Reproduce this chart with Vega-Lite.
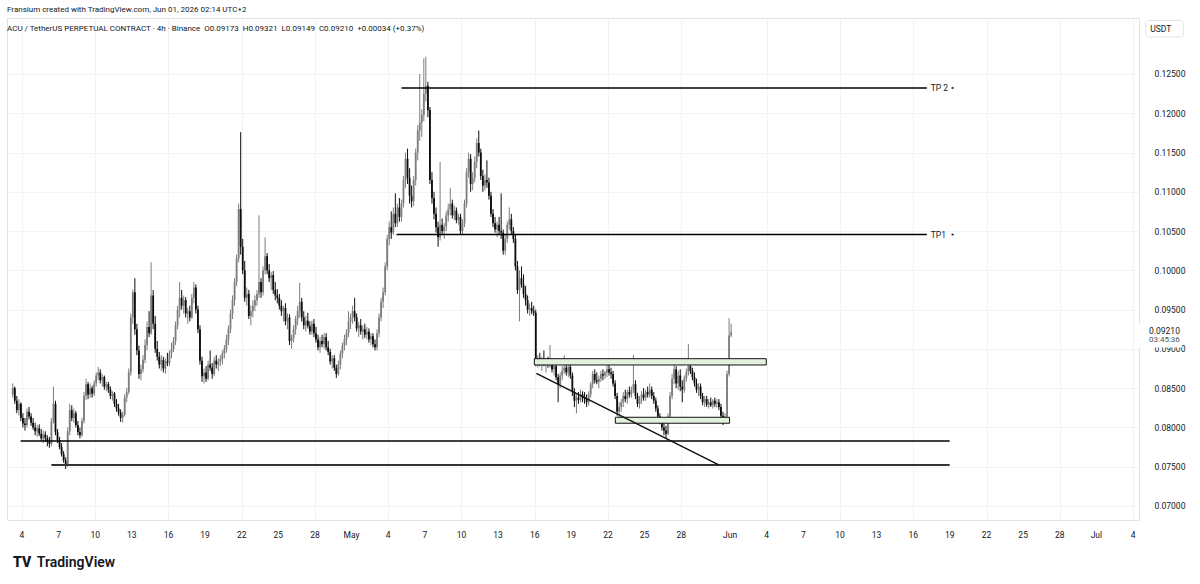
{
"$schema": "https://vega.github.io/schema/vega-lite/v6.json",
"width": 1132, "height": 502,
"autosize": {"type": "none"},
"padding": {"left": 7, "top": 18, "right": 61, "bottom": 64},
"background": "#ffffff",
"config": {"view": {"stroke": "#dfe2e8", "strokeWidth": 1}, "font": "Roboto", "axis": {"labelFont": "Roboto"}},
"title": {"text": "Fransium created with TradingView.com, Jun 01, 2026 02:14 UTC+2", "subtitle": "\u00a0\u00a0ACU / TetherUS PERPETUAL CONTRACT · 4h · Binance\u00a0\u00a0O0.09173\u00a0\u00a0H0.09321\u00a0\u00a0L0.09149\u00a0\u00a0C0.09210\u00a0\u00a0+0.00034 (+0.37%)", "anchor": "start", "frame": "group", "offset": -15, "fontSize": 8, "fontWeight": "normal", "font": "Roboto", "color": "#131722", "subtitleFontSize": 8, "subtitleFont": "Roboto", "subtitleColor": "#131722", "subtitlePadding": 11},
"datasets": {
"candles": [
{"t":"2026-04-03T06:00","o":0.0842,"h":0.0856,"l":0.0838,"c":0.0850},
{"t":"2026-04-03T10:00","o":0.0850,"h":0.0852,"l":0.0830,"c":0.0834},
{"t":"2026-04-03T14:00","o":0.0834,"h":0.0840,"l":0.0818,"c":0.0822},
{"t":"2026-04-03T18:00","o":0.0822,"h":0.0836,"l":0.0815,"c":0.0830},
{"t":"2026-04-03T22:00","o":0.0830,"h":0.0832,"l":0.0808,"c":0.0812},
{"t":"2026-04-04T02:00","o":0.0812,"h":0.0818,"l":0.0800,"c":0.0805},
{"t":"2026-04-04T06:00","o":0.0805,"h":0.0812,"l":0.0796,"c":0.0803},
{"t":"2026-04-04T10:00","o":0.0803,"h":0.0824,"l":0.0800,"c":0.0820},
{"t":"2026-04-04T14:00","o":0.0820,"h":0.0826,"l":0.0810,"c":0.0814},
{"t":"2026-04-04T18:00","o":0.0814,"h":0.0818,"l":0.0802,"c":0.0806},
{"t":"2026-04-04T22:00","o":0.0806,"h":0.0812,"l":0.0797,"c":0.0800},
{"t":"2026-04-05T02:00","o":0.0800,"h":0.0806,"l":0.0790,"c":0.0795},
{"t":"2026-04-05T06:00","o":0.0795,"h":0.0803,"l":0.0788,"c":0.0799},
{"t":"2026-04-05T10:00","o":0.0799,"h":0.0804,"l":0.0789,"c":0.0792},
{"t":"2026-04-05T14:00","o":0.0792,"h":0.0798,"l":0.0783,"c":0.0786},
{"t":"2026-04-05T18:00","o":0.0786,"h":0.0796,"l":0.0780,"c":0.0791},
{"t":"2026-04-05T22:00","o":0.0791,"h":0.0795,"l":0.0782,"c":0.0786},
{"t":"2026-04-06T02:00","o":0.0786,"h":0.0790,"l":0.0776,"c":0.0782},
{"t":"2026-04-06T06:00","o":0.0782,"h":0.0788,"l":0.0774,"c":0.0779},
{"t":"2026-04-06T10:00","o":0.0779,"h":0.0812,"l":0.0776,"c":0.0808},
{"t":"2026-04-06T14:00","o":0.0808,"h":0.0852,"l":0.0805,"c":0.0830},
{"t":"2026-04-06T18:00","o":0.0830,"h":0.0834,"l":0.0790,"c":0.0794},
{"t":"2026-04-06T22:00","o":0.0794,"h":0.0798,"l":0.0780,"c":0.0784},
{"t":"2026-04-07T02:00","o":0.0784,"h":0.0788,"l":0.0772,"c":0.0775},
{"t":"2026-04-07T06:00","o":0.0775,"h":0.0780,"l":0.0763,"c":0.0766},
{"t":"2026-04-07T10:00","o":0.0766,"h":0.0770,"l":0.0755,"c":0.0758},
{"t":"2026-04-07T14:00","o":0.0758,"h":0.0762,"l":0.0747,"c":0.0753},
{"t":"2026-04-07T18:00","o":0.0753,"h":0.0800,"l":0.0750,"c":0.0795},
{"t":"2026-04-07T22:00","o":0.0795,"h":0.0830,"l":0.0790,"c":0.0822},
{"t":"2026-04-08T02:00","o":0.0822,"h":0.0828,"l":0.0808,"c":0.0812},
{"t":"2026-04-08T06:00","o":0.0812,"h":0.0824,"l":0.0806,"c":0.0818},
{"t":"2026-04-08T10:00","o":0.0818,"h":0.0821,"l":0.0800,"c":0.0803},
{"t":"2026-04-08T14:00","o":0.0803,"h":0.0808,"l":0.0790,"c":0.0794},
{"t":"2026-04-08T18:00","o":0.0794,"h":0.0800,"l":0.0786,"c":0.0790},
{"t":"2026-04-08T22:00","o":0.0790,"h":0.0812,"l":0.0788,"c":0.0808},
{"t":"2026-04-09T02:00","o":0.0808,"h":0.0845,"l":0.0805,"c":0.0840},
{"t":"2026-04-09T06:00","o":0.0840,"h":0.0862,"l":0.0835,"c":0.0855},
{"t":"2026-04-09T10:00","o":0.0855,"h":0.0858,"l":0.0836,"c":0.0842},
{"t":"2026-04-09T14:00","o":0.0842,"h":0.0856,"l":0.0838,"c":0.0850},
{"t":"2026-04-09T18:00","o":0.0850,"h":0.0853,"l":0.0838,"c":0.0843},
{"t":"2026-04-09T22:00","o":0.0843,"h":0.0860,"l":0.0840,"c":0.0856},
{"t":"2026-04-10T02:00","o":0.0856,"h":0.0870,"l":0.0852,"c":0.0866},
{"t":"2026-04-10T06:00","o":0.0866,"h":0.0877,"l":0.0860,"c":0.0870},
{"t":"2026-04-10T10:00","o":0.0870,"h":0.0874,"l":0.0856,"c":0.0860},
{"t":"2026-04-10T14:00","o":0.0860,"h":0.0868,"l":0.0852,"c":0.0864},
{"t":"2026-04-10T18:00","o":0.0864,"h":0.0866,"l":0.0848,"c":0.0852},
{"t":"2026-04-10T22:00","o":0.0852,"h":0.0858,"l":0.0846,"c":0.0855},
{"t":"2026-04-11T02:00","o":0.0855,"h":0.0858,"l":0.0844,"c":0.0848},
{"t":"2026-04-11T06:00","o":0.0848,"h":0.0852,"l":0.0836,"c":0.0840},
{"t":"2026-04-11T10:00","o":0.0840,"h":0.0846,"l":0.0834,"c":0.0843},
{"t":"2026-04-11T14:00","o":0.0843,"h":0.0845,"l":0.0826,"c":0.0830},
{"t":"2026-04-11T18:00","o":0.0830,"h":0.0836,"l":0.0820,"c":0.0824},
{"t":"2026-04-11T22:00","o":0.0824,"h":0.0830,"l":0.0815,"c":0.0819},
{"t":"2026-04-12T02:00","o":0.0819,"h":0.0823,"l":0.0807,"c":0.0812},
{"t":"2026-04-12T06:00","o":0.0812,"h":0.0820,"l":0.0806,"c":0.0816},
{"t":"2026-04-12T10:00","o":0.0816,"h":0.0842,"l":0.0814,"c":0.0838},
{"t":"2026-04-12T14:00","o":0.0838,"h":0.0850,"l":0.0832,"c":0.0845},
{"t":"2026-04-12T18:00","o":0.0845,"h":0.0875,"l":0.0842,"c":0.0870},
{"t":"2026-04-12T22:00","o":0.0870,"h":0.0945,"l":0.0866,"c":0.0940},
{"t":"2026-04-13T02:00","o":0.0940,"h":0.0975,"l":0.0932,"c":0.0972},
{"t":"2026-04-13T06:00","o":0.0972,"h":0.0990,"l":0.0918,"c":0.0925},
{"t":"2026-04-13T10:00","o":0.0925,"h":0.0932,"l":0.0892,"c":0.0898},
{"t":"2026-04-13T14:00","o":0.0898,"h":0.0904,"l":0.0862,"c":0.0868},
{"t":"2026-04-13T18:00","o":0.0868,"h":0.0880,"l":0.0860,"c":0.0874},
{"t":"2026-04-13T22:00","o":0.0874,"h":0.0892,"l":0.0870,"c":0.0886},
{"t":"2026-04-14T02:00","o":0.0886,"h":0.0912,"l":0.0882,"c":0.0905},
{"t":"2026-04-14T06:00","o":0.0905,"h":0.0935,"l":0.0898,"c":0.0928},
{"t":"2026-04-14T10:00","o":0.0928,"h":0.0948,"l":0.0915,"c":0.0920},
{"t":"2026-04-14T14:00","o":0.0920,"h":0.1010,"l":0.0918,"c":0.0968},
{"t":"2026-04-14T18:00","o":0.0968,"h":0.0975,"l":0.0925,"c":0.0932},
{"t":"2026-04-14T22:00","o":0.0932,"h":0.0942,"l":0.0895,"c":0.0900},
{"t":"2026-04-15T02:00","o":0.0900,"h":0.0910,"l":0.0885,"c":0.0890},
{"t":"2026-04-15T06:00","o":0.0890,"h":0.0896,"l":0.0875,"c":0.0880},
{"t":"2026-04-15T10:00","o":0.0880,"h":0.0892,"l":0.0872,"c":0.0886},
{"t":"2026-04-15T14:00","o":0.0886,"h":0.0890,"l":0.0870,"c":0.0875},
{"t":"2026-04-15T18:00","o":0.0875,"h":0.0888,"l":0.0868,"c":0.0884},
{"t":"2026-04-15T22:00","o":0.0884,"h":0.0895,"l":0.0878,"c":0.0882},
{"t":"2026-04-16T02:00","o":0.0882,"h":0.0898,"l":0.0878,"c":0.0894},
{"t":"2026-04-16T06:00","o":0.0894,"h":0.0908,"l":0.0888,"c":0.0900},
{"t":"2026-04-16T10:00","o":0.0900,"h":0.0915,"l":0.0896,"c":0.0910},
{"t":"2026-04-16T14:00","o":0.0910,"h":0.0935,"l":0.0905,"c":0.0930},
{"t":"2026-04-16T18:00","o":0.0930,"h":0.0955,"l":0.0925,"c":0.0950},
{"t":"2026-04-16T22:00","o":0.0950,"h":0.0985,"l":0.0940,"c":0.0965},
{"t":"2026-04-17T02:00","o":0.0965,"h":0.0975,"l":0.0950,"c":0.0955},
{"t":"2026-04-17T06:00","o":0.0955,"h":0.0968,"l":0.0945,"c":0.0962},
{"t":"2026-04-17T10:00","o":0.0962,"h":0.0966,"l":0.0940,"c":0.0945},
{"t":"2026-04-17T14:00","o":0.0945,"h":0.0952,"l":0.0932,"c":0.0948},
{"t":"2026-04-17T18:00","o":0.0948,"h":0.0955,"l":0.0935,"c":0.0940},
{"t":"2026-04-17T22:00","o":0.0940,"h":0.0970,"l":0.0938,"c":0.0965},
{"t":"2026-04-18T02:00","o":0.0965,"h":0.0985,"l":0.0958,"c":0.0978},
{"t":"2026-04-18T06:00","o":0.0978,"h":0.0982,"l":0.0945,"c":0.0950},
{"t":"2026-04-18T10:00","o":0.0950,"h":0.0955,"l":0.0920,"c":0.0925},
{"t":"2026-04-18T14:00","o":0.0925,"h":0.0930,"l":0.0880,"c":0.0885},
{"t":"2026-04-18T18:00","o":0.0885,"h":0.0890,"l":0.0858,"c":0.0865},
{"t":"2026-04-18T22:00","o":0.0865,"h":0.0875,"l":0.0856,"c":0.0870},
{"t":"2026-04-19T02:00","o":0.0870,"h":0.0878,"l":0.0858,"c":0.0862},
{"t":"2026-04-19T06:00","o":0.0862,"h":0.0885,"l":0.0860,"c":0.0880},
{"t":"2026-04-19T10:00","o":0.0880,"h":0.0898,"l":0.0872,"c":0.0876},
{"t":"2026-04-19T14:00","o":0.0876,"h":0.0882,"l":0.0862,"c":0.0868},
{"t":"2026-04-19T18:00","o":0.0868,"h":0.0890,"l":0.0865,"c":0.0885},
{"t":"2026-04-19T22:00","o":0.0885,"h":0.0892,"l":0.0875,"c":0.0880},
{"t":"2026-04-20T02:00","o":0.0880,"h":0.0888,"l":0.0872,"c":0.0884},
{"t":"2026-04-20T06:00","o":0.0884,"h":0.0892,"l":0.0878,"c":0.0887},
{"t":"2026-04-20T10:00","o":0.0887,"h":0.0898,"l":0.0880,"c":0.0894},
{"t":"2026-04-20T14:00","o":0.0894,"h":0.0905,"l":0.0888,"c":0.0900},
{"t":"2026-04-20T18:00","o":0.0900,"h":0.0918,"l":0.0895,"c":0.0912},
{"t":"2026-04-20T22:00","o":0.0912,"h":0.0930,"l":0.0905,"c":0.0925},
{"t":"2026-04-21T02:00","o":0.0925,"h":0.0950,"l":0.0920,"c":0.0945},
{"t":"2026-04-21T06:00","o":0.0945,"h":0.0968,"l":0.0938,"c":0.0962},
{"t":"2026-04-21T10:00","o":0.0962,"h":0.0990,"l":0.0955,"c":0.0985},
{"t":"2026-04-21T14:00","o":0.0985,"h":0.1020,"l":0.0980,"c":0.1015},
{"t":"2026-04-21T18:00","o":0.1015,"h":0.1085,"l":0.1010,"c":0.1078},
{"t":"2026-04-21T22:00","o":0.1078,"h":0.1176,"l":0.1020,"c":0.1030},
{"t":"2026-04-22T02:00","o":0.1030,"h":0.1040,"l":0.0995,"c":0.1000},
{"t":"2026-04-22T06:00","o":0.1000,"h":0.1012,"l":0.0960,"c":0.0965},
{"t":"2026-04-22T10:00","o":0.0965,"h":0.0978,"l":0.0955,"c":0.0970},
{"t":"2026-04-22T14:00","o":0.0970,"h":0.0975,"l":0.0938,"c":0.0942},
{"t":"2026-04-22T18:00","o":0.0942,"h":0.0955,"l":0.0930,"c":0.0948},
{"t":"2026-04-22T22:00","o":0.0948,"h":0.0962,"l":0.0940,"c":0.0955},
{"t":"2026-04-23T02:00","o":0.0955,"h":0.0968,"l":0.0948,"c":0.0962},
{"t":"2026-04-23T06:00","o":0.0962,"h":0.0975,"l":0.0955,"c":0.0970},
{"t":"2026-04-23T10:00","o":0.0970,"h":0.1070,"l":0.0965,"c":0.0985},
{"t":"2026-04-23T14:00","o":0.0985,"h":0.0990,"l":0.0965,"c":0.0972},
{"t":"2026-04-23T18:00","o":0.0972,"h":0.1005,"l":0.0968,"c":0.1000},
{"t":"2026-04-23T22:00","o":0.1000,"h":0.1042,"l":0.0995,"c":0.1018},
{"t":"2026-04-24T02:00","o":0.1018,"h":0.1022,"l":0.0995,"c":0.1000},
{"t":"2026-04-24T06:00","o":0.1000,"h":0.1008,"l":0.0985,"c":0.0990},
{"t":"2026-04-24T10:00","o":0.0990,"h":0.0998,"l":0.0975,"c":0.0994},
{"t":"2026-04-24T14:00","o":0.0994,"h":0.0999,"l":0.0970,"c":0.0975},
{"t":"2026-04-24T18:00","o":0.0975,"h":0.0985,"l":0.0962,"c":0.0968},
{"t":"2026-04-24T22:00","o":0.0968,"h":0.0976,"l":0.0958,"c":0.0965},
{"t":"2026-04-25T02:00","o":0.0965,"h":0.0970,"l":0.0950,"c":0.0955},
{"t":"2026-04-25T06:00","o":0.0955,"h":0.0962,"l":0.0942,"c":0.0948},
{"t":"2026-04-25T10:00","o":0.0948,"h":0.0955,"l":0.0935,"c":0.0952},
{"t":"2026-04-25T14:00","o":0.0952,"h":0.0958,"l":0.0930,"c":0.0935},
{"t":"2026-04-25T18:00","o":0.0935,"h":0.0945,"l":0.0925,"c":0.0940},
{"t":"2026-04-25T22:00","o":0.0940,"h":0.0944,"l":0.0905,"c":0.0910},
{"t":"2026-04-26T02:00","o":0.0910,"h":0.0918,"l":0.0900,"c":0.0914},
{"t":"2026-04-26T06:00","o":0.0914,"h":0.0930,"l":0.0908,"c":0.0925},
{"t":"2026-04-26T10:00","o":0.0925,"h":0.0942,"l":0.0918,"c":0.0938},
{"t":"2026-04-26T14:00","o":0.0938,"h":0.0955,"l":0.0930,"c":0.0948},
{"t":"2026-04-26T18:00","o":0.0948,"h":0.0984,"l":0.0940,"c":0.0960},
{"t":"2026-04-26T22:00","o":0.0960,"h":0.0965,"l":0.0935,"c":0.0940},
{"t":"2026-04-27T02:00","o":0.0940,"h":0.0948,"l":0.0925,"c":0.0930},
{"t":"2026-04-27T06:00","o":0.0930,"h":0.0942,"l":0.0922,"c":0.0936},
{"t":"2026-04-27T10:00","o":0.0936,"h":0.0946,"l":0.0926,"c":0.0929},
{"t":"2026-04-27T14:00","o":0.0929,"h":0.0935,"l":0.0918,"c":0.0922},
{"t":"2026-04-27T18:00","o":0.0922,"h":0.0936,"l":0.0918,"c":0.0932},
{"t":"2026-04-27T22:00","o":0.0932,"h":0.0938,"l":0.0915,"c":0.0920},
{"t":"2026-04-28T02:00","o":0.0920,"h":0.0928,"l":0.0908,"c":0.0912},
{"t":"2026-04-28T06:00","o":0.0912,"h":0.0918,"l":0.0898,"c":0.0902},
{"t":"2026-04-28T10:00","o":0.0902,"h":0.0915,"l":0.0895,"c":0.0910},
{"t":"2026-04-28T14:00","o":0.0910,"h":0.0918,"l":0.0902,"c":0.0906},
{"t":"2026-04-28T18:00","o":0.0906,"h":0.0920,"l":0.0900,"c":0.0915},
{"t":"2026-04-28T22:00","o":0.0915,"h":0.0920,"l":0.0898,"c":0.0902},
{"t":"2026-04-29T02:00","o":0.0902,"h":0.0910,"l":0.0892,"c":0.0896},
{"t":"2026-04-29T06:00","o":0.0896,"h":0.0900,"l":0.0880,"c":0.0884},
{"t":"2026-04-29T10:00","o":0.0884,"h":0.0892,"l":0.0875,"c":0.0888},
{"t":"2026-04-29T14:00","o":0.0888,"h":0.0892,"l":0.0872,"c":0.0876},
{"t":"2026-04-29T18:00","o":0.0876,"h":0.0880,"l":0.0863,"c":0.0868},
{"t":"2026-04-29T22:00","o":0.0868,"h":0.0885,"l":0.0866,"c":0.0880},
{"t":"2026-04-30T02:00","o":0.0880,"h":0.0898,"l":0.0874,"c":0.0894},
{"t":"2026-04-30T06:00","o":0.0894,"h":0.0908,"l":0.0888,"c":0.0904},
{"t":"2026-04-30T10:00","o":0.0904,"h":0.0918,"l":0.0898,"c":0.0912},
{"t":"2026-04-30T14:00","o":0.0912,"h":0.0925,"l":0.0905,"c":0.0920},
{"t":"2026-04-30T18:00","o":0.0920,"h":0.0948,"l":0.0915,"c":0.0935},
{"t":"2026-04-30T22:00","o":0.0935,"h":0.0945,"l":0.0925,"c":0.0940},
{"t":"2026-05-01T02:00","o":0.0940,"h":0.0955,"l":0.0932,"c":0.0948},
{"t":"2026-05-01T06:00","o":0.0948,"h":0.0965,"l":0.0935,"c":0.0940},
{"t":"2026-05-01T10:00","o":0.0940,"h":0.0945,"l":0.0922,"c":0.0926},
{"t":"2026-05-01T14:00","o":0.0926,"h":0.0934,"l":0.0915,"c":0.0930},
{"t":"2026-05-01T18:00","o":0.0930,"h":0.0938,"l":0.0918,"c":0.0922},
{"t":"2026-05-01T22:00","o":0.0922,"h":0.0930,"l":0.0912,"c":0.0925},
{"t":"2026-05-02T02:00","o":0.0925,"h":0.0932,"l":0.0914,"c":0.0918},
{"t":"2026-05-02T06:00","o":0.0918,"h":0.0928,"l":0.0912,"c":0.0922},
{"t":"2026-05-02T10:00","o":0.0922,"h":0.0926,"l":0.0908,"c":0.0912},
{"t":"2026-05-02T14:00","o":0.0912,"h":0.0920,"l":0.0905,"c":0.0916},
{"t":"2026-05-02T18:00","o":0.0916,"h":0.0920,"l":0.0902,"c":0.0906},
{"t":"2026-05-02T22:00","o":0.0906,"h":0.0912,"l":0.0898,"c":0.0902},
{"t":"2026-05-03T02:00","o":0.0902,"h":0.0925,"l":0.0898,"c":0.0920},
{"t":"2026-05-03T06:00","o":0.0920,"h":0.0945,"l":0.0915,"c":0.0940},
{"t":"2026-05-03T10:00","o":0.0940,"h":0.0965,"l":0.0935,"c":0.0960},
{"t":"2026-05-03T14:00","o":0.0960,"h":0.0978,"l":0.0952,"c":0.0972},
{"t":"2026-05-03T18:00","o":0.0972,"h":0.1010,"l":0.0968,"c":0.1005},
{"t":"2026-05-03T22:00","o":0.1005,"h":0.1045,"l":0.1000,"c":0.1040},
{"t":"2026-05-04T02:00","o":0.1040,"h":0.1062,"l":0.1032,"c":0.1055},
{"t":"2026-05-04T06:00","o":0.1055,"h":0.1075,"l":0.1040,"c":0.1048},
{"t":"2026-05-04T10:00","o":0.1048,"h":0.1080,"l":0.1045,"c":0.1072},
{"t":"2026-05-04T14:00","o":0.1072,"h":0.1098,"l":0.1055,"c":0.1060},
{"t":"2026-05-04T18:00","o":0.1060,"h":0.1085,"l":0.1055,"c":0.1080},
{"t":"2026-05-04T22:00","o":0.1080,"h":0.1092,"l":0.1062,"c":0.1068},
{"t":"2026-05-05T02:00","o":0.1068,"h":0.1090,"l":0.1062,"c":0.1085},
{"t":"2026-05-05T06:00","o":0.1085,"h":0.1120,"l":0.1080,"c":0.1115},
{"t":"2026-05-05T10:00","o":0.1115,"h":0.1150,"l":0.1105,"c":0.1142},
{"t":"2026-05-05T14:00","o":0.1142,"h":0.1155,"l":0.1110,"c":0.1118},
{"t":"2026-05-05T18:00","o":0.1118,"h":0.1130,"l":0.1085,"c":0.1095},
{"t":"2026-05-05T22:00","o":0.1095,"h":0.1108,"l":0.1080,"c":0.1088},
{"t":"2026-05-06T02:00","o":0.1088,"h":0.1120,"l":0.1082,"c":0.1115},
{"t":"2026-05-06T06:00","o":0.1115,"h":0.1155,"l":0.1108,"c":0.1150},
{"t":"2026-05-06T10:00","o":0.1150,"h":0.1185,"l":0.1140,"c":0.1178},
{"t":"2026-05-06T14:00","o":0.1178,"h":0.1250,"l":0.1165,"c":0.1188},
{"t":"2026-05-06T18:00","o":0.1188,"h":0.1205,"l":0.1170,"c":0.1198},
{"t":"2026-05-06T22:00","o":0.1198,"h":0.1270,"l":0.1190,"c":0.1225},
{"t":"2026-05-07T02:00","o":0.1225,"h":0.1272,"l":0.1215,"c":0.1235},
{"t":"2026-05-07T06:00","o":0.1235,"h":0.1240,"l":0.1195,"c":0.1204},
{"t":"2026-05-07T10:00","o":0.1204,"h":0.1208,"l":0.1110,"c":0.1115},
{"t":"2026-05-07T14:00","o":0.1115,"h":0.1125,"l":0.1085,"c":0.1092},
{"t":"2026-05-07T18:00","o":0.1092,"h":0.1100,"l":0.1065,"c":0.1072},
{"t":"2026-05-07T22:00","o":0.1072,"h":0.1080,"l":0.1048,"c":0.1055},
{"t":"2026-05-08T02:00","o":0.1055,"h":0.1062,"l":0.1030,"c":0.1042},
{"t":"2026-05-08T06:00","o":0.1042,"h":0.1138,"l":0.1038,"c":0.1058},
{"t":"2026-05-08T10:00","o":0.1058,"h":0.1066,"l":0.1045,"c":0.1050},
{"t":"2026-05-08T14:00","o":0.1050,"h":0.1060,"l":0.1040,"c":0.1056},
{"t":"2026-05-08T18:00","o":0.1056,"h":0.1075,"l":0.1050,"c":0.1070},
{"t":"2026-05-08T22:00","o":0.1070,"h":0.1085,"l":0.1062,"c":0.1078},
{"t":"2026-05-09T02:00","o":0.1078,"h":0.1105,"l":0.1070,"c":0.1085},
{"t":"2026-05-09T06:00","o":0.1085,"h":0.1090,"l":0.1066,"c":0.1070},
{"t":"2026-05-09T10:00","o":0.1070,"h":0.1082,"l":0.1064,"c":0.1076},
{"t":"2026-05-09T14:00","o":0.1076,"h":0.1080,"l":0.1060,"c":0.1064},
{"t":"2026-05-09T18:00","o":0.1064,"h":0.1072,"l":0.1058,"c":0.1068},
{"t":"2026-05-09T22:00","o":0.1068,"h":0.1072,"l":0.1045,"c":0.1050},
{"t":"2026-05-10T02:00","o":0.1050,"h":0.1065,"l":0.1045,"c":0.1060},
{"t":"2026-05-10T06:00","o":0.1060,"h":0.1090,"l":0.1055,"c":0.1085},
{"t":"2026-05-10T10:00","o":0.1085,"h":0.1130,"l":0.1080,"c":0.1125},
{"t":"2026-05-10T14:00","o":0.1125,"h":0.1150,"l":0.1118,"c":0.1142},
{"t":"2026-05-10T18:00","o":0.1142,"h":0.1148,"l":0.1100,"c":0.1110},
{"t":"2026-05-10T22:00","o":0.1110,"h":0.1125,"l":0.1102,"c":0.1118},
{"t":"2026-05-11T02:00","o":0.1118,"h":0.1145,"l":0.1112,"c":0.1138},
{"t":"2026-05-11T06:00","o":0.1138,"h":0.1168,"l":0.1130,"c":0.1162},
{"t":"2026-05-11T10:00","o":0.1162,"h":0.1178,"l":0.1145,"c":0.1150},
{"t":"2026-05-11T14:00","o":0.1150,"h":0.1155,"l":0.1115,"c":0.1120},
{"t":"2026-05-11T18:00","o":0.1120,"h":0.1128,"l":0.1100,"c":0.1108},
{"t":"2026-05-11T22:00","o":0.1108,"h":0.1122,"l":0.1102,"c":0.1115},
{"t":"2026-05-12T02:00","o":0.1115,"h":0.1140,"l":0.1105,"c":0.1112},
{"t":"2026-05-12T06:00","o":0.1112,"h":0.1118,"l":0.1090,"c":0.1095},
{"t":"2026-05-12T10:00","o":0.1095,"h":0.1100,"l":0.1068,"c":0.1072},
{"t":"2026-05-12T14:00","o":0.1072,"h":0.1078,"l":0.1055,"c":0.1060},
{"t":"2026-05-12T18:00","o":0.1060,"h":0.1068,"l":0.1048,"c":0.1052},
{"t":"2026-05-12T22:00","o":0.1052,"h":0.1062,"l":0.1042,"c":0.1058},
{"t":"2026-05-13T02:00","o":0.1058,"h":0.1068,"l":0.1045,"c":0.1050},
{"t":"2026-05-13T06:00","o":0.1050,"h":0.1098,"l":0.1040,"c":0.1048},
{"t":"2026-05-13T10:00","o":0.1048,"h":0.1052,"l":0.1020,"c":0.1025},
{"t":"2026-05-13T14:00","o":0.1025,"h":0.1045,"l":0.1020,"c":0.1040},
{"t":"2026-05-13T18:00","o":0.1040,"h":0.1062,"l":0.1035,"c":0.1058},
{"t":"2026-05-13T22:00","o":0.1058,"h":0.1080,"l":0.1052,"c":0.1065},
{"t":"2026-05-14T02:00","o":0.1065,"h":0.1072,"l":0.1045,"c":0.1050},
{"t":"2026-05-14T06:00","o":0.1050,"h":0.1055,"l":0.1035,"c":0.1040},
{"t":"2026-05-14T10:00","o":0.1040,"h":0.1045,"l":0.1000,"c":0.1005},
{"t":"2026-05-14T14:00","o":0.1005,"h":0.1012,"l":0.0970,"c":0.0975},
{"t":"2026-05-14T18:00","o":0.0975,"h":0.1000,"l":0.0935,"c":0.0990},
{"t":"2026-05-14T22:00","o":0.0990,"h":0.1005,"l":0.0978,"c":0.0982},
{"t":"2026-05-15T02:00","o":0.0982,"h":0.0995,"l":0.0965,"c":0.0970},
{"t":"2026-05-15T06:00","o":0.0970,"h":0.0980,"l":0.0955,"c":0.0962},
{"t":"2026-05-15T10:00","o":0.0962,"h":0.0968,"l":0.0945,"c":0.0950},
{"t":"2026-05-15T14:00","o":0.0950,"h":0.0958,"l":0.0942,"c":0.0952},
{"t":"2026-05-15T18:00","o":0.0952,"h":0.0960,"l":0.0944,"c":0.0948},
{"t":"2026-05-15T22:00","o":0.0948,"h":0.0955,"l":0.0942,"c":0.0946},
{"t":"2026-05-16T02:00","o":0.0946,"h":0.0950,"l":0.0878,"c":0.0882},
{"t":"2026-05-16T06:00","o":0.0882,"h":0.0892,"l":0.0876,"c":0.0888},
{"t":"2026-05-16T10:00","o":0.0888,"h":0.0895,"l":0.0878,"c":0.0882},
{"t":"2026-05-16T14:00","o":0.0882,"h":0.0890,"l":0.0872,"c":0.0886},
{"t":"2026-05-16T18:00","o":0.0886,"h":0.0898,"l":0.0878,"c":0.0880},
{"t":"2026-05-16T22:00","o":0.0880,"h":0.0888,"l":0.0870,"c":0.0884},
{"t":"2026-05-17T02:00","o":0.0884,"h":0.0890,"l":0.0876,"c":0.0880},
{"t":"2026-05-17T06:00","o":0.0880,"h":0.0905,"l":0.0876,"c":0.0885},
{"t":"2026-05-17T10:00","o":0.0885,"h":0.0888,"l":0.0870,"c":0.0874},
{"t":"2026-05-17T14:00","o":0.0874,"h":0.0882,"l":0.0866,"c":0.0878},
{"t":"2026-05-17T18:00","o":0.0878,"h":0.0882,"l":0.0860,"c":0.0864},
{"t":"2026-05-17T22:00","o":0.0864,"h":0.0868,"l":0.0832,"c":0.0855},
{"t":"2026-05-18T02:00","o":0.0855,"h":0.0870,"l":0.0850,"c":0.0866},
{"t":"2026-05-18T06:00","o":0.0866,"h":0.0878,"l":0.0860,"c":0.0872},
{"t":"2026-05-18T10:00","o":0.0872,"h":0.0892,"l":0.0868,"c":0.0876},
{"t":"2026-05-18T14:00","o":0.0876,"h":0.0882,"l":0.0866,"c":0.0870},
{"t":"2026-05-18T18:00","o":0.0870,"h":0.0880,"l":0.0864,"c":0.0877},
{"t":"2026-05-18T22:00","o":0.0877,"h":0.0880,"l":0.0862,"c":0.0866},
{"t":"2026-05-19T02:00","o":0.0866,"h":0.0870,"l":0.0840,"c":0.0845},
{"t":"2026-05-19T06:00","o":0.0845,"h":0.0850,"l":0.0826,"c":0.0834},
{"t":"2026-05-19T10:00","o":0.0834,"h":0.0842,"l":0.0818,"c":0.0838},
{"t":"2026-05-19T14:00","o":0.0838,"h":0.0845,"l":0.0830,"c":0.0835},
{"t":"2026-05-19T18:00","o":0.0835,"h":0.0848,"l":0.0832,"c":0.0842},
{"t":"2026-05-19T22:00","o":0.0842,"h":0.0846,"l":0.0832,"c":0.0838},
{"t":"2026-05-20T02:00","o":0.0838,"h":0.0845,"l":0.0830,"c":0.0836},
{"t":"2026-05-20T06:00","o":0.0836,"h":0.0842,"l":0.0826,"c":0.0832},
{"t":"2026-05-20T10:00","o":0.0832,"h":0.0846,"l":0.0828,"c":0.0842},
{"t":"2026-05-20T14:00","o":0.0842,"h":0.0858,"l":0.0838,"c":0.0855},
{"t":"2026-05-20T18:00","o":0.0855,"h":0.0872,"l":0.0850,"c":0.0868},
{"t":"2026-05-20T22:00","o":0.0868,"h":0.0874,"l":0.0856,"c":0.0860},
{"t":"2026-05-21T02:00","o":0.0860,"h":0.0870,"l":0.0855,"c":0.0858},
{"t":"2026-05-21T06:00","o":0.0858,"h":0.0866,"l":0.0850,"c":0.0862},
{"t":"2026-05-21T10:00","o":0.0862,"h":0.0872,"l":0.0858,"c":0.0868},
{"t":"2026-05-21T14:00","o":0.0868,"h":0.0874,"l":0.0860,"c":0.0866},
{"t":"2026-05-21T18:00","o":0.0866,"h":0.0872,"l":0.0862,"c":0.0870},
{"t":"2026-05-21T22:00","o":0.0870,"h":0.0880,"l":0.0864,"c":0.0874},
{"t":"2026-05-22T02:00","o":0.0874,"h":0.0880,"l":0.0866,"c":0.0870},
{"t":"2026-05-22T06:00","o":0.0870,"h":0.0876,"l":0.0862,"c":0.0868},
{"t":"2026-05-22T10:00","o":0.0868,"h":0.0872,"l":0.0852,"c":0.0856},
{"t":"2026-05-22T14:00","o":0.0856,"h":0.0860,"l":0.0836,"c":0.0840},
{"t":"2026-05-22T18:00","o":0.0840,"h":0.0844,"l":0.0815,"c":0.0820},
{"t":"2026-05-22T22:00","o":0.0820,"h":0.0832,"l":0.0812,"c":0.0826},
{"t":"2026-05-23T02:00","o":0.0826,"h":0.0836,"l":0.0820,"c":0.0832},
{"t":"2026-05-23T06:00","o":0.0832,"h":0.0845,"l":0.0826,"c":0.0840},
{"t":"2026-05-23T10:00","o":0.0840,"h":0.0848,"l":0.0832,"c":0.0836},
{"t":"2026-05-23T14:00","o":0.0836,"h":0.0848,"l":0.0830,"c":0.0845},
{"t":"2026-05-23T18:00","o":0.0845,"h":0.0852,"l":0.0838,"c":0.0842},
{"t":"2026-05-23T22:00","o":0.0842,"h":0.0852,"l":0.0838,"c":0.0848},
{"t":"2026-05-24T02:00","o":0.0848,"h":0.0892,"l":0.0844,"c":0.0855},
{"t":"2026-05-24T06:00","o":0.0855,"h":0.0860,"l":0.0836,"c":0.0840},
{"t":"2026-05-24T10:00","o":0.0840,"h":0.0844,"l":0.0826,"c":0.0830},
{"t":"2026-05-24T14:00","o":0.0830,"h":0.0840,"l":0.0824,"c":0.0836},
{"t":"2026-05-24T18:00","o":0.0836,"h":0.0846,"l":0.0830,"c":0.0842},
{"t":"2026-05-24T22:00","o":0.0842,"h":0.0850,"l":0.0834,"c":0.0838},
{"t":"2026-05-25T02:00","o":0.0838,"h":0.0848,"l":0.0834,"c":0.0845},
{"t":"2026-05-25T06:00","o":0.0845,"h":0.0852,"l":0.0838,"c":0.0842},
{"t":"2026-05-25T10:00","o":0.0842,"h":0.0856,"l":0.0838,"c":0.0848},
{"t":"2026-05-25T14:00","o":0.0848,"h":0.0852,"l":0.0836,"c":0.0840},
{"t":"2026-05-25T18:00","o":0.0840,"h":0.0845,"l":0.0830,"c":0.0834},
{"t":"2026-05-25T22:00","o":0.0834,"h":0.0838,"l":0.0820,"c":0.0824},
{"t":"2026-05-26T02:00","o":0.0824,"h":0.0828,"l":0.0810,"c":0.0814},
{"t":"2026-05-26T06:00","o":0.0814,"h":0.0818,"l":0.0804,"c":0.0808},
{"t":"2026-05-26T10:00","o":0.0808,"h":0.0812,"l":0.0796,"c":0.0800},
{"t":"2026-05-26T14:00","o":0.0800,"h":0.0806,"l":0.0790,"c":0.0796},
{"t":"2026-05-26T18:00","o":0.0796,"h":0.0802,"l":0.0786,"c":0.0792},
{"t":"2026-05-26T22:00","o":0.0792,"h":0.0818,"l":0.0790,"c":0.0814},
{"t":"2026-05-27T02:00","o":0.0814,"h":0.0845,"l":0.0810,"c":0.0840},
{"t":"2026-05-27T06:00","o":0.0840,"h":0.0868,"l":0.0836,"c":0.0862},
{"t":"2026-05-27T10:00","o":0.0862,"h":0.0880,"l":0.0855,"c":0.0874},
{"t":"2026-05-27T14:00","o":0.0874,"h":0.0878,"l":0.0850,"c":0.0856},
{"t":"2026-05-27T18:00","o":0.0856,"h":0.0872,"l":0.0848,"c":0.0866},
{"t":"2026-05-27T22:00","o":0.0866,"h":0.0874,"l":0.0846,"c":0.0852},
{"t":"2026-05-28T02:00","o":0.0852,"h":0.0860,"l":0.0832,"c":0.0848},
{"t":"2026-05-28T06:00","o":0.0848,"h":0.0866,"l":0.0844,"c":0.0862},
{"t":"2026-05-28T10:00","o":0.0862,"h":0.0875,"l":0.0858,"c":0.0870},
{"t":"2026-05-28T14:00","o":0.0870,"h":0.0906,"l":0.0866,"c":0.0878},
{"t":"2026-05-28T18:00","o":0.0878,"h":0.0884,"l":0.0868,"c":0.0872},
{"t":"2026-05-28T22:00","o":0.0872,"h":0.0876,"l":0.0860,"c":0.0864},
{"t":"2026-05-29T02:00","o":0.0864,"h":0.0870,"l":0.0852,"c":0.0856},
{"t":"2026-05-29T06:00","o":0.0856,"h":0.0862,"l":0.0844,"c":0.0848},
{"t":"2026-05-29T10:00","o":0.0848,"h":0.0856,"l":0.0840,"c":0.0852},
{"t":"2026-05-29T14:00","o":0.0852,"h":0.0856,"l":0.0836,"c":0.0840},
{"t":"2026-05-29T18:00","o":0.0840,"h":0.0844,"l":0.0828,"c":0.0832},
{"t":"2026-05-29T22:00","o":0.0832,"h":0.0840,"l":0.0826,"c":0.0836},
{"t":"2026-05-30T02:00","o":0.0836,"h":0.0840,"l":0.0826,"c":0.0829},
{"t":"2026-05-30T06:00","o":0.0829,"h":0.0836,"l":0.0824,"c":0.0832},
{"t":"2026-05-30T10:00","o":0.0832,"h":0.0838,"l":0.0826,"c":0.0828},
{"t":"2026-05-30T14:00","o":0.0828,"h":0.0836,"l":0.0824,"c":0.0834},
{"t":"2026-05-30T18:00","o":0.0834,"h":0.0838,"l":0.0826,"c":0.0830},
{"t":"2026-05-30T22:00","o":0.0830,"h":0.0836,"l":0.0825,"c":0.0832},
{"t":"2026-05-31T02:00","o":0.0832,"h":0.0836,"l":0.0822,"c":0.0826},
{"t":"2026-05-31T06:00","o":0.0826,"h":0.0830,"l":0.0812,"c":0.0815},
{"t":"2026-05-31T10:00","o":0.0815,"h":0.0820,"l":0.0803,"c":0.0810},
{"t":"2026-05-31T14:00","o":0.0810,"h":0.0818,"l":0.0806,"c":0.0814},
{"t":"2026-05-31T18:00","o":0.0814,"h":0.0872,"l":0.0812,"c":0.0868},
{"t":"2026-05-31T22:00","o":0.0868,"h":0.0939,"l":0.0865,"c":0.0917},
{"t":"2026-06-01T02:00","o":0.09173,"h":0.09321,"l":0.09149,"c":0.09210}
],
"dates": [
{"t":"2026-04-04T00:00","label":"4"},{"t":"2026-04-07T00:00","label":"7"},{"t":"2026-04-10T00:00","label":"10"},{"t":"2026-04-13T00:00","label":"13"},{"t":"2026-04-16T00:00","label":"16"},{"t":"2026-04-19T00:00","label":"19"},{"t":"2026-04-22T00:00","label":"22"},{"t":"2026-04-25T00:00","label":"25"},{"t":"2026-04-28T00:00","label":"28"},
{"t":"2026-05-01T00:00","label":"May"},{"t":"2026-05-04T00:00","label":"4"},{"t":"2026-05-07T00:00","label":"7"},{"t":"2026-05-10T00:00","label":"10"},{"t":"2026-05-13T00:00","label":"13"},{"t":"2026-05-16T00:00","label":"16"},{"t":"2026-05-19T00:00","label":"19"},{"t":"2026-05-22T00:00","label":"22"},{"t":"2026-05-25T00:00","label":"25"},{"t":"2026-05-28T00:00","label":"28"},
{"t":"2026-06-01T00:00","label":"Jun"},{"t":"2026-06-04T00:00","label":"4"},{"t":"2026-06-07T00:00","label":"7"},{"t":"2026-06-10T00:00","label":"10"},{"t":"2026-06-13T00:00","label":"13"},{"t":"2026-06-16T00:00","label":"16"},{"t":"2026-06-19T00:00","label":"19"},{"t":"2026-06-22T00:00","label":"22"},{"t":"2026-06-25T00:00","label":"25"},{"t":"2026-06-28T00:00","label":"28"},
{"t":"2026-07-01T00:00","label":"Jul"},{"t":"2026-07-04T00:00","label":"4"}
],
"levels": [
{"name":"TP 2","from":"2026-05-05T02:10","to":"2026-06-17T02:40","price":0.12322},
{"name":"TP1","from":"2026-05-04T16:20","to":"2026-06-17T02:40","price":0.10456},
{"name":"Support","from":"2026-04-03T21:30","to":"2026-06-18T23:35","price":0.07827}
],
"level2": [
{"name":"Low","from":"2026-04-06T09:50","to":"2026-06-18T23:35","price":0.07522}
],
"tails": [
{"name":"TP 2","from":"2026-06-19T03:25","to":"2026-06-19T07:20","price":0.12322},
{"name":"TP1","from":"2026-06-19T03:25","to":"2026-06-19T07:20","price":0.10456}
],
"tplabels": [
{"label":"TP 2","t":"2026-06-17T10:30","price":0.12322},
{"label":"TP1","t":"2026-06-17T10:30","price":0.10456}
],
"trend": [
{"from":"2026-05-16T03:10","to":"2026-05-31T01:40","p1":0.08689,"p2":0.07522}
],
"boxes": [
{"from":"2026-05-15T23:15","to":"2026-06-03T23:05","top":0.08875,"bottom":0.08795},
{"from":"2026-05-22T14:25","to":"2026-05-31T23:00","top":0.08129,"bottom":0.08053}
],
"pricebox": [
{"from":"2026-07-04T01:55","to":"2026-07-08T00:00","top":0.0932,"bottom":0.09018}
],
"lastprice": [
{"label":"0.09210","t":"2026-07-04T01:55","price":0.09225}
],
"countdown": [
{"label":"03:45:36","t":"2026-07-04T01:55","price":0.09108}
],
"unitbox": [
{"from":"2026-07-05T01:00","to":"2026-07-08T03:00","top":0.13181,"bottom":0.12971}
],
"unit": [
{"label":"USDT","t":"2026-07-06T06:30","price":0.13073}
],
"brand": [
{"label":"TradingView","t":"2026-04-05T05:15","price":0.06274}
],
"brandmark": [
{"label":"TV","t":"2026-04-03T06:28","price":0.06274}
]
},
"layer": [
{"data": {"name": "candles"},
 "mark": {"type": "rule", "strokeWidth": 1},
 "encoding": {
  "x": {"field": "t", "type": "temporal",
   "scale": {"domain": [{"year":2026,"month":4,"date":3,"hours":4,"minutes":31},{"year":2026,"month":7,"date":4,"hours":1,"minutes":55}], "nice": false},
   "axis": {"title": null, "values": [
     {"year":2026,"month":4,"date":4},{"year":2026,"month":4,"date":7},{"year":2026,"month":4,"date":10},{"year":2026,"month":4,"date":13},{"year":2026,"month":4,"date":16},{"year":2026,"month":4,"date":19},{"year":2026,"month":4,"date":22},{"year":2026,"month":4,"date":25},{"year":2026,"month":4,"date":28},
     {"year":2026,"month":5,"date":1},{"year":2026,"month":5,"date":4},{"year":2026,"month":5,"date":7},{"year":2026,"month":5,"date":10},{"year":2026,"month":5,"date":13},{"year":2026,"month":5,"date":16},{"year":2026,"month":5,"date":19},{"year":2026,"month":5,"date":22},{"year":2026,"month":5,"date":25},{"year":2026,"month":5,"date":28},
     {"year":2026,"month":6,"date":1},{"year":2026,"month":6,"date":4},{"year":2026,"month":6,"date":7},{"year":2026,"month":6,"date":10},{"year":2026,"month":6,"date":13},{"year":2026,"month":6,"date":16},{"year":2026,"month":6,"date":19},{"year":2026,"month":6,"date":22},{"year":2026,"month":6,"date":25},{"year":2026,"month":6,"date":28},
     {"year":2026,"month":7,"date":1},{"year":2026,"month":7,"date":4}],
    "labels": false, "grid": true, "gridColor": "#f0f3fa", "gridWidth": 1, "domain": false, "ticks": false, "tickSize": 0}},
  "y": {"field": "l", "type": "quantitative",
   "scale": {"domain": [0.06821, 0.13213], "nice": false, "zero": false},
   "axis": {"title": null, "orient": "right", "values": [0.07,0.075,0.08,0.085,0.09,0.095,0.1,0.105,0.11,0.115,0.12,0.125],
    "format": ".5f", "grid": true, "gridColor": "#f0f3fa", "domain": false, "ticks": false, "tickSize": 0,
    "labelPadding": 15, "labelFontSize": 8.5, "labelColor": "#131722", "labelAlign": "left"}},
  "y2": {"field": "h"},
  "color": {"condition": {"test": "datum.c >= datum.o", "value": "#7d7d7d"}, "value": "#0d0d0d"}
 }},
{"data": {"name": "candles"},
 "mark": {"type": "bar", "width": 1.8},
 "encoding": {
  "x": {"field": "t", "type": "temporal"},
  "y": {"field": "o", "type": "quantitative"},
  "y2": {"field": "c"},
  "color": {"condition": {"test": "datum.c >= datum.o", "value": "#7d7d7d"}, "value": "#0d0d0d"}
 }},
{"data": {"name": "boxes", "format": {"parse": {"from": "date", "to": "date"}}},
 "mark": {"type": "rect", "fill": "#e2f1dc", "stroke": "#111111", "strokeWidth": 1},
 "encoding": {
  "x": {"field": "from", "type": "temporal"}, "x2": {"field": "to"},
  "y": {"field": "top", "type": "quantitative"}, "y2": {"field": "bottom"}
 }},
{"data": {"name": "levels", "format": {"parse": {"from": "date", "to": "date"}}},
 "mark": {"type": "rule", "stroke": "#000000", "strokeWidth": 1.5},
 "encoding": {
  "x": {"field": "from", "type": "temporal"}, "x2": {"field": "to"},
  "y": {"field": "price", "type": "quantitative"}
 }},
{"data": {"name": "tails", "format": {"parse": {"from": "date", "to": "date"}}},
 "mark": {"type": "rule", "stroke": "#000000", "strokeWidth": 1.5},
 "encoding": {
  "x": {"field": "from", "type": "temporal"}, "x2": {"field": "to"},
  "y": {"field": "price", "type": "quantitative"}
 }},
{"data": {"name": "level2", "format": {"parse": {"from": "date", "to": "date"}}},
 "mark": {"type": "rule", "stroke": "#333333", "strokeWidth": 2},
 "encoding": {
  "x": {"field": "from", "type": "temporal"}, "x2": {"field": "to"},
  "y": {"field": "price", "type": "quantitative"}
 }},
{"data": {"name": "trend", "format": {"parse": {"from": "date", "to": "date"}}},
 "mark": {"type": "rule", "stroke": "#111111", "strokeWidth": 1.5},
 "encoding": {
  "x": {"field": "from", "type": "temporal"}, "x2": {"field": "to"},
  "y": {"field": "p1", "type": "quantitative"}, "y2": {"field": "p2"}
 }},
{"data": {"name": "tplabels"},
 "mark": {"type": "text", "align": "left", "baseline": "middle", "fontSize": 8.5, "color": "#131722", "font": "Roboto"},
 "encoding": {
  "x": {"field": "t", "type": "temporal"},
  "y": {"field": "price", "type": "quantitative"},
  "text": {"field": "label"}
 }},
{"data": {"name": "dates"},
 "mark": {"type": "text", "align": "center", "baseline": "middle", "dy": 15, "fontSize": 8.5, "color": "#131722", "font": "Roboto", "clip": false},
 "encoding": {
  "x": {"field": "t", "type": "temporal"},
  "y": {"datum": 0.06821, "type": "quantitative"},
  "text": {"field": "label"}
 }},
{"data": {"name": "pricebox", "format": {"parse": {"from": "date", "to": "date"}}},
 "mark": {"type": "rect", "fill": "#ffffff", "clip": false},
 "encoding": {
  "x": {"field": "from", "type": "temporal"}, "x2": {"field": "to"},
  "y": {"field": "top", "type": "quantitative"}, "y2": {"field": "bottom"}
 }},
{"data": {"name": "lastprice"},
 "mark": {"type": "text", "align": "left", "baseline": "middle", "dx": 15, "fontSize": 8.5, "color": "#131722", "font": "Roboto", "clip": false},
 "encoding": {
  "x": {"field": "t", "type": "temporal"},
  "y": {"field": "price", "type": "quantitative"},
  "text": {"field": "label"}
 }},
{"data": {"name": "countdown"},
 "mark": {"type": "text", "align": "left", "baseline": "middle", "dx": 15, "fontSize": 8, "color": "#50535e", "font": "Roboto", "clip": false},
 "encoding": {
  "x": {"field": "t", "type": "temporal"},
  "y": {"field": "price", "type": "quantitative"},
  "text": {"field": "label"}
 }},
{"data": {"name": "unitbox", "format": {"parse": {"from": "date", "to": "date"}}},
 "mark": {"type": "rect", "fill": "#ffffff", "stroke": "#e0e3eb", "strokeWidth": 1, "cornerRadius": 3, "clip": false},
 "encoding": {
  "x": {"field": "from", "type": "temporal"}, "x2": {"field": "to"},
  "y": {"field": "top", "type": "quantitative"}, "y2": {"field": "bottom"}
 }},
{"data": {"name": "unit"},
 "mark": {"type": "text", "align": "center", "baseline": "middle", "fontSize": 8.5, "color": "#131722", "font": "Roboto", "clip": false},
 "encoding": {
  "x": {"field": "t", "type": "temporal"},
  "y": {"field": "price", "type": "quantitative"},
  "text": {"field": "label"}
 }},
{"data": {"name": "brand"},
 "mark": {"type": "text", "align": "left", "baseline": "middle", "fontSize": 14, "fontWeight": 600, "color": "#131722", "font": "Roboto", "clip": false},
 "encoding": {
  "x": {"field": "t", "type": "temporal"},
  "y": {"field": "price", "type": "quantitative"},
  "text": {"field": "label"}
 }},
{"data": {"name": "brandmark"},
 "mark": {"type": "text", "align": "left", "baseline": "middle", "fontSize": 14, "fontWeight": 900, "color": "#131722", "font": "Roboto", "clip": false},
 "encoding": {
  "x": {"field": "t", "type": "temporal"},
  "y": {"field": "price", "type": "quantitative"},
  "text": {"field": "label"}
 }}
]
}
